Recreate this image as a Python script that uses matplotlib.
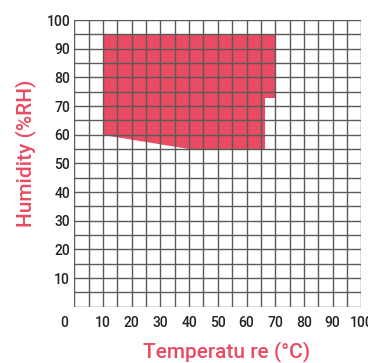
import matplotlib

matplotlib.use("Agg")
import matplotlib.pyplot as plt
import numpy as np

# Operating range outline (temperature degC, humidity %RH)
temps = [10, 10, 70, 70, 66.5, 66.5, 40, 10]
hums = [60, 95, 95, 72.7, 72.7, 55, 55, 60]

x_ticks = [10, 20, 30, 40, 50, 60, 70, 80, 90, 100]
y_ticks = [10, 20, 30, 40, 50, 60, 70, 80, 90, 100]

RED = "#e94b62"
GRID = "#5a5a5a"

plt.rcParams["font.family"] = ["Roboto", "Liberation Sans", "DejaVu Sans"]

fig = plt.figure(figsize=(3.68, 3.63), dpi=100)
ax = fig.add_axes([74.3 / 368, 1 - 306.7 / 363, 287 / 368, 286.7 / 363])

ax.fill(temps, hums, color=RED, linewidth=0, zorder=1)

for v in np.arange(0, 101, 5):
    ax.axvline(v, color=GRID, linewidth=1.0, zorder=2)
    ax.axhline(v, color=GRID, linewidth=1.0, zorder=2)

ax.set_xlim(0, 100)
ax.set_ylim(0, 100)
for s in ax.spines.values():
    s.set_visible(False)

ax.set_xticks(x_ticks)
ax.set_yticks(y_ticks)
ax.tick_params(length=0, labelsize=10, colors="#222222")
ax.tick_params(axis="x", pad=7)
ax.tick_params(axis="y", pad=3)
for lbl in ax.get_xticklabels() + ax.get_yticklabels():
    lbl.set_fontweight("medium")

# corner "0" label sits left of the origin
ax.annotate("0", xy=(0, 0), xytext=(-7.5, -7), textcoords="offset points",
            ha="center", va="top", fontsize=10, color="#222222",
            fontweight="medium")

fig.text(227 / 368, 1 - 352 / 363, "Temperatu re (°C)", color=RED,
         fontsize=15, ha="center", va="center", fontweight="medium")
fig.text(26 / 368, 1 - 153 / 363, "Humidity (%RH)", color=RED,
         fontsize=15, ha="center", va="center", rotation=90,
         fontweight="medium")

fig.savefig("out.png", dpi=100)
